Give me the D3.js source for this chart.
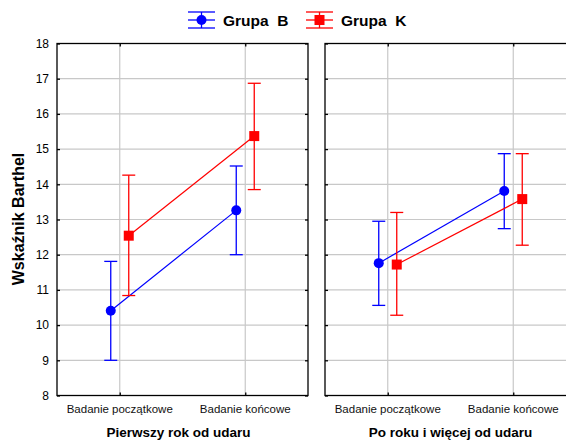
<!DOCTYPE html>
<html>
<head>
<meta charset="utf-8">
<script src="https://cdn.jsdelivr.net/npm/d3@7"></script>
<style>
body { margin: 0; background: #fff; }
text { font-family: "Liberation Sans", Arial, sans-serif; }
</style>
</head>
<body>
<div id="chart"></div>
<script>
// data
var panels = ["Pierwszy rok od udaru", "Po roku i więcej od udaru"];
var stages = ["Badanie początkowe", "Badanie końcowe"];
var yTicks = [8, 9, 10, 11, 12, 13, 14, 15, 16, 17, 18];

// mean, lower, upper per panel / stage
var grupaB_mean = [[10.41, 13.26], [11.76, 13.81]];
var grupaB_low  = [[9.0, 12.0], [10.56, 12.74]];
var grupaB_high = [[11.81, 14.52], [12.95, 14.87]];

var grupaK_mean = [[12.54, 15.37], [11.72, 13.58]];
var grupaK_low  = [[10.84, 13.85], [10.28, 12.27]];
var grupaK_high = [[14.26, 16.87], [13.2, 14.87]];

var series = [
  {name: "Grupa  B", color: "#0000ff", shape: "circle", off: -9,
   mean: grupaB_mean, low: grupaB_low, high: grupaB_high},
  {name: "Grupa  K", color: "#ff0000", shape: "square", off: 9,
   mean: grupaK_mean, low: grupaK_low, high: grupaK_high}
];

var W = 566, H = 441;
var plotTop = 43.5, plotBottom = 395.5;
var panelRanges = [[57, 308], [325, 576]];

var svg = d3.select("#chart").append("svg")
  .attr("width", W).attr("height", H);

var y = d3.scaleLinear().domain([8, 18]).range([plotBottom, plotTop]);
var cap = 6.5;

panels.forEach(function(title, p) {
  var r = panelRanges[p];
  var x = d3.scalePoint().domain(stages).range(r).padding(0.5);
  var g = svg.append("g");

  // grid
  g.selectAll(".hg").data(yTicks.slice(1, -1)).enter().append("line")
    .attr("x1", r[0]).attr("x2", r[1])
    .attr("y1", function(d) { return y(d); }).attr("y2", function(d) { return y(d); })
    .attr("stroke", "#c8c8c8").attr("stroke-width", 1.2);
  g.selectAll(".vg").data(stages).enter().append("line")
    .attr("x1", function(d) { return x(d); }).attr("x2", function(d) { return x(d); })
    .attr("y1", plotTop).attr("y2", plotBottom)
    .attr("stroke", "#c8c8c8").attr("stroke-width", 1.2);

  // frame
  g.append("rect").attr("x", r[0]).attr("y", plotTop)
    .attr("width", r[1] - r[0]).attr("height", plotBottom - plotTop)
    .attr("fill", "none").attr("stroke", "#000").attr("stroke-width", 1.3);

  // inner ticks
  var axL = d3.axisLeft(y).tickValues(yTicks).tickSize(-3).tickFormat("");
  var axR = d3.axisRight(y).tickValues(yTicks).tickSize(-3).tickFormat("");
  var axB = d3.axisBottom(x).tickSize(-3).tickFormat("");
  var axT = d3.axisTop(x).tickSize(-3).tickFormat("");
  [[axL, "translate(" + r[0] + ",0)"], [axR, "translate(" + r[1] + ",0)"],
   [axB, "translate(0," + plotBottom + ")"], [axT, "translate(0," + plotTop + ")"]].forEach(function(a) {
    var ag = g.append("g").attr("transform", a[1]).call(a[0]);
    ag.select(".domain").remove();
    ag.selectAll("line").attr("stroke", "#000").attr("stroke-width", 1.3);
  });

  if (p == 0) {
    g.selectAll(".yl").data(yTicks).enter().append("text")
      .attr("x", 49).attr("y", function(d) { return y(d); })
      .attr("dy", "0.35em").attr("text-anchor", "end")
      .attr("font-size", 12).text(function(d) { return d; });
  }

  // x tick labels
  g.selectAll(".xl").data(stages).enter().append("text")
    .attr("x", function(d) { return x(d); }).attr("y", 412.5)
    .attr("text-anchor", "middle").attr("font-size", 11.5)
    .attr("fill", "#111").text(function(d) { return d; });

  g.append("text").attr("x", (r[0] + r[1]) / 2 - (p == 0 ? 4 : 0)).attr("y", 437)
    .attr("text-anchor", "middle").attr("font-size", 13.5)
    .attr("font-weight", "bold").text(title);

  // series
  series.forEach(function(s) {
    var pts = stages.map(function(st, i) {
      return {x: x(st) + s.off, m: s.mean[p][i], lo: s.low[p][i], hi: s.high[p][i]};
    });
    var sg = g.append("g");
    sg.append("path").datum(pts)
      .attr("d", d3.line().x(function(d) { return d.x; }).y(function(d) { return y(d.m); }))
      .attr("fill", "none").attr("stroke", s.color).attr("stroke-width", 1.2);
    pts.forEach(function(d) {
      sg.append("line").attr("x1", d.x).attr("x2", d.x)
        .attr("y1", y(d.lo)).attr("y2", y(d.hi))
        .attr("stroke", s.color).attr("stroke-width", 1.3);
      [d.lo, d.hi].forEach(function(v) {
        sg.append("line").attr("x1", d.x - cap).attr("x2", d.x + cap)
          .attr("y1", y(v)).attr("y2", y(v))
          .attr("stroke", s.color).attr("stroke-width", 1.3);
      });
      if (s.shape == "circle") {
        sg.append("circle").attr("cx", d.x).attr("cy", y(d.m)).attr("r", 5)
          .attr("fill", s.color);
      } else {
        sg.append("rect").attr("x", d.x - 5).attr("y", y(d.m) - 5)
          .attr("width", 10).attr("height", 10).attr("fill", s.color);
      }
    });
  });
});

// y title
svg.append("text")
  .attr("transform", "translate(24," + 219 + ") rotate(-90)")
  .attr("text-anchor", "middle").attr("font-size", 16)
  .attr("font-weight", "bold").text("Wskaźnik Barthel");

// legend
var legX = [188, 306];
series.forEach(function(s, i) {
  var lg = svg.append("g").attr("transform", "translate(" + legX[i] + ",20)");
  [-8, 0, 8].forEach(function(dy) {
    lg.append("line").attr("x1", 0).attr("x2", 27).attr("y1", dy).attr("y2", dy)
      .attr("stroke", s.color).attr("stroke-width", 1.3);
  });
  lg.append("line").attr("x1", 13.5).attr("x2", 13.5).attr("y1", -8).attr("y2", 8)
    .attr("stroke", s.color).attr("stroke-width", 1.3);
  if (s.shape == "circle") {
    lg.append("circle").attr("cx", 13.5).attr("cy", 0).attr("r", 5).attr("fill", s.color);
  } else {
    lg.append("rect").attr("x", 8.5).attr("y", -5).attr("width", 10).attr("height", 10)
      .attr("fill", s.color);
  }
  lg.append("text").attr("x", 35).attr("y", 0).attr("dy", "0.36em")
    .attr("font-size", 15.5).attr("font-weight", "bold")
    .attr("xml:space", "preserve").style("white-space", "pre").text(s.name);
});
</script>
</body>
</html>
